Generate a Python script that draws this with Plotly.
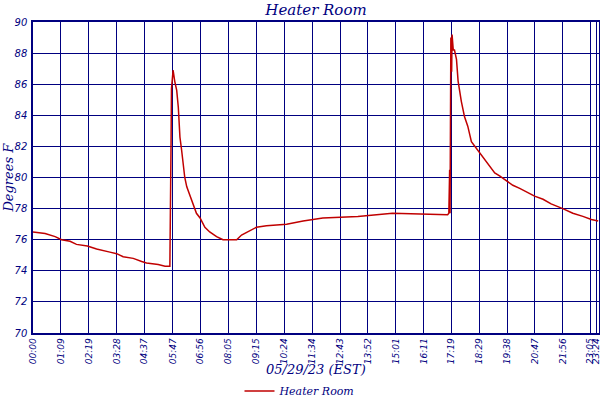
import plotly.graph_objects as go

# Time (minutes after midnight) and temperature (deg F)
minutes = [0, 30, 55, 71, 92, 108, 135, 158, 191, 208, 224, 249, 270, 282, 311, 328,
           340, 341, 343, 344, 346, 348, 352, 357, 361, 365, 369, 373, 377, 382, 390,
           398, 406, 415, 427, 439, 456, 472, 506, 518, 539, 547, 555, 580, 630, 671,
           696, 720, 807, 853, 893, 1030, 1033, 1035, 1036, 1038, 1040, 1041, 1044,
           1047, 1052, 1056, 1060, 1064, 1072, 1080, 1089, 1101, 1110, 1122, 1134,
           1147, 1159, 1176, 1192, 1209, 1225, 1246, 1267, 1287, 1316, 1341, 1366,
           1387, 1404]
temps = [76.5, 76.4, 76.2, 76.0, 75.9, 75.7, 75.6, 75.4, 75.2, 75.1, 74.9, 74.8, 74.6,
         74.5, 74.4, 74.3,
         74.3, 76.1, 82.4, 85.7, 86.8, 86.9, 86.2, 85.6, 84.5, 82.6, 81.8, 80.7, 80.0,
         79.4, 78.8, 78.2, 77.7, 77.4, 76.8, 76.5, 76.2, 76.0, 76.0, 76.3, 76.6, 76.7,
         76.8, 76.9, 77.0, 77.2, 77.3, 77.4, 77.5, 77.6, 77.7, 77.6, 77.7, 80.5, 77.7,
         89.0, 86.8, 89.2, 88.2, 88.2, 87.6, 86.2, 85.5, 84.9, 83.9, 83.3, 82.3, 81.9,
         81.6, 81.2, 80.8, 80.3, 80.1, 79.8, 79.5, 79.3, 79.1, 78.8, 78.6, 78.3, 78.0,
         77.7, 77.5, 77.3, 77.2]

tick_minutes = [0, 69, 139, 208, 277, 347, 416, 485, 555, 624, 694, 763, 832, 901,
                971, 1039, 1109, 1178, 1247, 1316, 1385, 1400]
tick_labels = ["00:00", "01:09", "02:19", "03:28", "04:37", "05:47", "06:56", "08:05",
               "09:15", "10:24", "11:34", "12:43", "13:52", "15:01", "16:11", "17:19",
               "18:29", "19:38", "20:47", "21:56", "23:05", "23:24"]

NAVY = "#000080"
RED = "#c00000"
SERIF = "DejaVu Serif"
SANS = "DejaVu Sans"

fig = go.Figure()
fig.add_trace(go.Scatter(
    x=minutes, y=temps, mode="lines", name="Heater Room",
    line=dict(color=RED, width=1.5),
))

fig.update_layout(
    width=600, height=400,
    margin=dict(l=33, r=1, t=22, b=67, pad=0, autoexpand=False),
    paper_bgcolor="white", plot_bgcolor="white",
    title=dict(text="<i>Heater Room</i>", x=316 / 600, xanchor="center",
               y=1 - 10 / 400, yanchor="middle",
               font=dict(family=SERIF, size=15, color=NAVY)),
    showlegend=True,
    legend=dict(orientation="h", xref="container", yref="container",
                x=0.5, xanchor="center", y=9 / 400, yanchor="middle",
                font=dict(family=SERIF, size=11, color=NAVY, style="italic"),
                itemwidth=30, bgcolor="rgba(0,0,0,0)"),
    xaxis=dict(range=[0, 1406], tickmode="array", tickvals=tick_minutes,
               ticktext=tick_labels, tickangle=-90, automargin=False,
               ticklabeloverflow="allow",
               showgrid=True, gridcolor=NAVY, gridwidth=1.3,
               showline=True, linecolor=NAVY, linewidth=1.5, mirror=True,
               ticks="", zeroline=False,
               tickfont=dict(family=SANS, size=9, color=NAVY, style="italic")),
    yaxis=dict(range=[70, 90], dtick=2, tick0=70, automargin=False,
               showgrid=True, gridcolor=NAVY, gridwidth=1.3,
               showline=True, linecolor=NAVY, linewidth=1.5, mirror=True,
               ticks="", zeroline=False, ticklabelstandoff=2,
               tickfont=dict(family=SANS, size=10, color=NAVY, style="italic")),
    annotations=[
        dict(text="<i>05/29/23 (EST)</i>", xref="paper", yref="paper",
             x=0.5, y=-0.116, xanchor="center", yanchor="middle", showarrow=False,
             font=dict(family=SERIF, size=13, color=NAVY)),
        dict(text="<i>Degrees F</i>", xref="paper", yref="paper",
             x=-0.044, y=0.5, xanchor="center", yanchor="middle", showarrow=False,
             textangle=-90, font=dict(family=SERIF, size=13, color=NAVY)),
    ],
)

fig.write_html("out.html", config={"displayModeBar": False},
               post_script="document.body.style.margin='0';document.body.style.overflow='hidden';")
